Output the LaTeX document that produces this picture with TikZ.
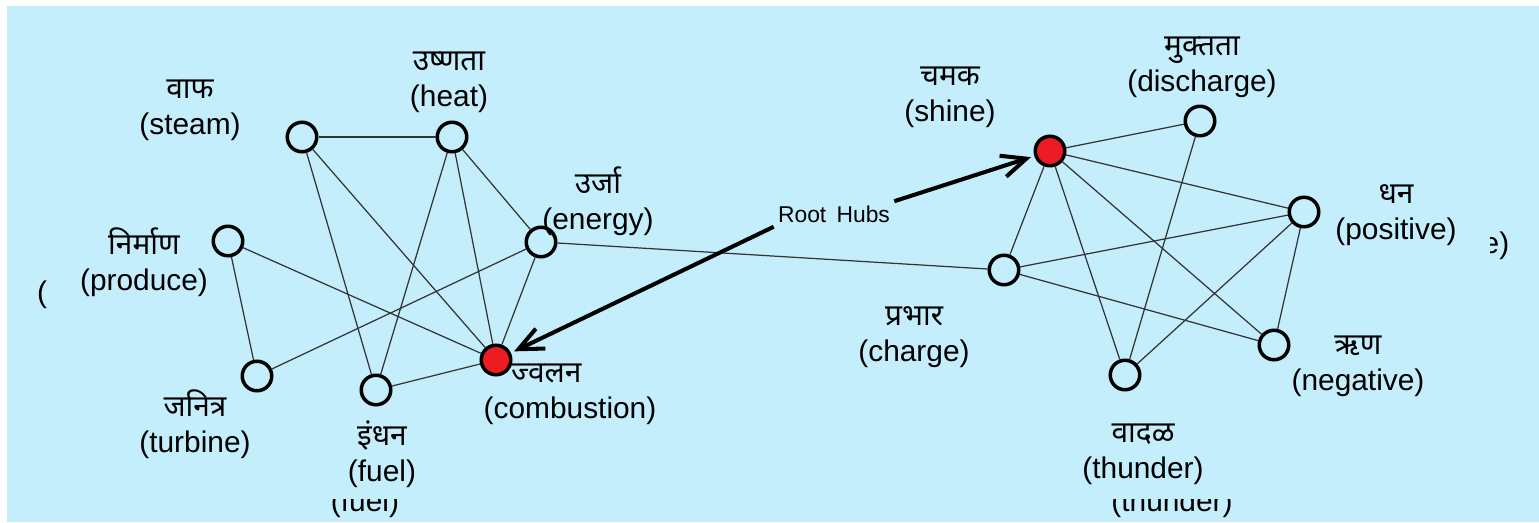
\documentclass[tikz,border=0pt]{standalone}
\usepackage{fontspec}
\setmainfont{Liberation Sans}
\newfontfamily\deva[Script=Devanagari]{Noto Sans}
\usetikzlibrary{arrows.meta}
\definecolor{skyback}{RGB}{197,238,253}
\definecolor{hubred}{RGB}{237,28,36}

\begin{document}
\begin{tikzpicture}[x=0.02cm,y=-0.02cm,
   vertex/.style={circle,draw=black,line width=2pt,fill=skyback,minimum size=0.59cm,inner sep=0pt},
   hub/.style={vertex,fill=hubred},
   lbl/.style={align=center,font=\fontsize{17}{20.5}\selectfont,inner sep=0pt},
   edge/.style={black!80,line width=0.7pt},
   hubarrow/.style={line width=2.3pt,-{Straight Barb[length=4.9mm,width=4.4mm]},shorten >=2pt}]
   \useasboundingbox (0,0) rectangle (1539,522);
   \fill[skyback] (7,6) rectangle (1539,522);
   \node[lbl] (lparen) at (42,295) {(};
   \begin{scope}
      \clip (1490,220) rectangle (1525,270);
      \node[lbl] (eparen) at (1496,246) {e)};
   \end{scope}
   \begin{scope}
      \clip (300,499) rectangle (1260,522);
      \node[lbl] (fuelghost) at (365,504) {(fuel)};
      \node[lbl] (thunderghost) at (1172,504) {(thunder)};
   \end{scope}
   \node[vertex] (steam) at (302,137) {};
   \node[vertex] (heat) at (452,137) {};
   \node[vertex] (energy) at (541,242) {};
   \node[vertex] (produce) at (228,241) {};
   \node[vertex] (turbine) at (257,376) {};
   \node[vertex] (fuel) at (376,390) {};
   \node[hub] (comb) at (496,360) {};
   \node[hub] (shine) at (1050,151) {};
   \node[vertex] (disch) at (1200,121) {};
   \node[vertex] (pos) at (1304,212) {};
   \node[vertex] (charge) at (1004,270) {};
   \node[vertex] (neg) at (1274,345) {};
   \node[vertex] (thunder) at (1125,375) {};
   \draw[edge] (steam) -- (heat);
   \draw[edge] (steam) -- (fuel);
   \draw[edge] (steam) -- (comb);
   \draw[edge] (heat) -- (fuel);
   \draw[edge] (heat) -- (comb);
   \draw[edge] (heat) -- (energy);
   \draw[edge] (produce) -- (turbine);
   \draw[edge] (produce) -- (comb);
   \draw[edge] (turbine) -- (energy);
   \draw[edge] (energy) -- (comb);
   \draw[edge] (fuel) -- (comb);
   \draw[edge] (energy) -- (charge);
   \draw[edge] (shine) -- (disch);
   \draw[edge] (shine) -- (pos);
   \draw[edge] (shine) -- (charge);
   \draw[edge] (shine) -- (thunder);
   \draw[edge] (shine) -- (neg);
   \draw[edge] (disch) -- (thunder);
   \draw[edge] (charge) -- (pos);
   \draw[edge] (charge) -- (neg);
   \draw[edge] (pos) -- (thunder);
   \draw[edge] (pos) -- (neg);
   \node[lbl] (steamlbl) at (190,110) {{\deva वाफ}\\(steam)};
   \node[lbl] (heatlbl) at (449,82) {{\deva उष्णता}\\(heat)};
   \node[lbl] (energylbl) at (598,201) {{\deva उर्जा}\\(energy)};
   \node[lbl] (producelbl) at (144,262) {{\deva निर्माण}\\(produce)};
   \node[lbl] (turbinelbl) at (195,424) {{\deva जनित्र}\\(turbine)};
   \node[lbl] (fuellbl) at (382,454) {{\deva इंधन}\\(fuel)};
   \node[lbl] (comblbl) at (570,394) {{\deva ज्वलन}\hspace*{0.95cm}\\(combustion)};
   \node[lbl] (shinelbl) at (950,97) {{\deva चमक}\\(shine)};
   \node[lbl] (dischlbl) at (1202,67) {{\deva मुक्तता}\\(discharge)};
   \node[lbl] (poslbl) at (1396,215) {{\deva धन}\\(positive)};
   \node[lbl] (chargelbl) at (914,337) {{\deva प्रभार}\\(charge)};
   \node[lbl] (neglbl) at (1358,366) {{\deva ऋण}\\(negative)};
   \node[lbl] (thunderlbl) at (1143,454) {{\deva वादळ}\\(thunder)};
   \node[font=\fontsize{13}{15}\selectfont,inner sep=2.3pt] (hubs) at (834,214) {Root\hspace{0.45em}Hubs};
   \draw[hubarrow] (hubs.south west) -- (comb);
   \draw[hubarrow] (hubs.north east) -- (shine);
\end{tikzpicture}
\end{document}
